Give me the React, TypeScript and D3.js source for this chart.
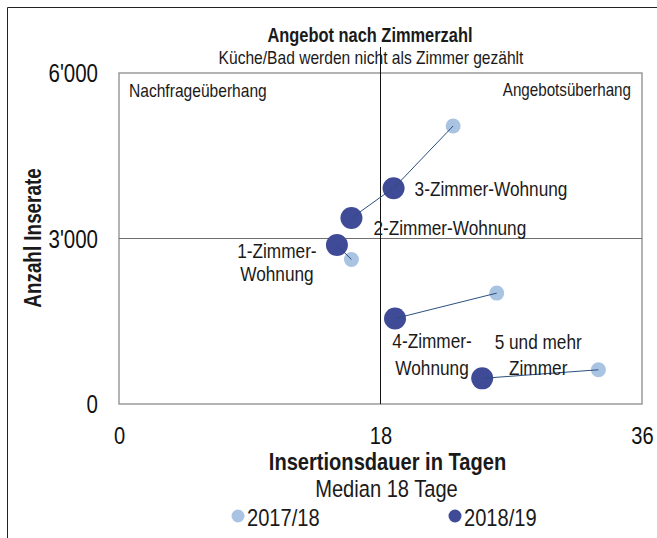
import React, { useEffect, useRef } from "react";
import * as d3 from "d3";

// Angebot nach Zimmerzahl: Insertionsdauer (Tage) vs. Anzahl Inserate
const categories = [
  "1-Zimmer-Wohnung",
  "2-Zimmer-Wohnung",
  "3-Zimmer-Wohnung",
  "4-Zimmer-Wohnung",
  "5 und mehr Zimmer",
];
const labelLines = [
  ["1-Zimmer-", "Wohnung"],
  ["2-Zimmer-Wohnung"],
  ["3-Zimmer-Wohnung"],
  ["4-Zimmer-", "Wohnung"],
  ["5 und mehr", "Zimmer"],
];
const days2017 = [16.0, 18.8, 23.0, 26.0, 33.0];
const ads2017 = [2620, 3900, 5040, 2010, 620];
const days2018 = [15.0, 16.0, 18.9, 19.0, 25.0];
const ads2018 = [2880, 3370, 3910, 1550, 465];
const seriesNames = ["2017/18", "2018/19"];
const xTicks = [0, 18, 36];
const yTicks = [0, 3000, 6000];
const medianDays = 18;
const medianAds = 3000;

const W = 657;
const H = 538;
// no Arial Narrow here: use Liberation Sans and squeeze it afterwards
const FONT = "'Liberation Sans', Arial, sans-serif";
const NARROW = 0.82;
const LIGHT = "#a9c3e2";
const DARK = "#404b98";
const LINK = "#2b4f7e";

// label placement relative to the 2018/19 point (px)
const labelPos = [
  { anchor: "middle", dx: -60, dy: [5, 28] },
  { anchor: "start", dx: 22, dy: [9] },
  { anchor: "start", dx: 21, dy: [0] },
  { anchor: "middle", dx: 37, dy: [22, 49] },
  { anchor: "middle", dx: 56, dy: [-37, -11] },
];

function Chart() {
  const ref = useRef<SVGSVGElement>(null);

  useEffect(() => {
    const svg = d3.select(ref.current);
    svg.selectAll("*").remove();

    const x = d3.scaleLinear().domain([0, 36]).range([119, 642]);
    const y = d3.scaleLinear().domain([0, 6000]).range([404, 73]);
    const fmt = d3.formatLocale({
      decimal: ".",
      thousands: "'",
      grouping: [3],
      currency: ["", ""],
    }).format(",");

    // outer frame
    svg.append("path")
      .attr("d", `M7.5,${H} V7.5 H${W}`)
      .attr("fill", "none")
      .attr("stroke", "#222")
      .attr("stroke-width", 1);

    // titles
    svg.append("text")
      .attr("x", 370).attr("y", 35)
      .attr("text-anchor", "middle").attr("dominant-baseline", "central")
      .attr("font-weight", "bold").attr("font-size", 20)
      .text("Angebot nach Zimmerzahl");
    svg.append("text")
      .attr("x", 371).attr("y", 57)
      .attr("text-anchor", "middle").attr("dominant-baseline", "central")
      .attr("font-size", 19)
      .text("Küche/Bad werden nicht als Zimmer gezählt");

    // plot box
    svg.append("rect")
      .attr("x", x(0)).attr("y", y(6000))
      .attr("width", x(36) - x(0)).attr("height", y(0) - y(6000))
      .attr("fill", "none").attr("stroke", "#9a9a9a").attr("stroke-width", 1.5);

    // median lines
    svg.append("line")
      .attr("x1", x(0)).attr("x2", x(36))
      .attr("y1", y(medianAds)).attr("y2", y(medianAds))
      .attr("stroke", "#6e6e6e").attr("stroke-width", 1.2);
    svg.append("line")
      .attr("x1", x(medianDays)).attr("x2", x(medianDays))
      .attr("y1", 47).attr("y2", y(0))
      .attr("stroke", "#111").attr("stroke-width", 1);

    // quadrant labels
    svg.append("text")
      .attr("x", x(0) + 10).attr("y", 90)
      .attr("dominant-baseline", "central").attr("font-size", 19)
      .text("Nachfrageüberhang");
    svg.append("text")
      .attr("x", x(36) - 11).attr("y", 89)
      .attr("text-anchor", "end")
      .attr("dominant-baseline", "central").attr("font-size", 18.5)
      .text("Angebotsüberhang");

    // y axis
    const yAxis = svg.append("g")
      .attr("transform", `translate(${x(0) - 8},0)`)
      .call(d3.axisLeft(y).tickValues(yTicks).tickFormat((v) => fmt(+v)).tickSize(0).tickPadding(13));
    yAxis.select(".domain").remove();
    yAxis.selectAll("text")
      .attr("font-family", FONT).attr("font-size", 25).attr("fill", "#111")
      .attr("dy", "0.34em");

    // x axis
    const xAxis = svg.append("g")
      .attr("transform", `translate(0,${y(0) + 23})`)
      .call(d3.axisBottom(x).tickValues(xTicks).tickFormat((v) => String(v)).tickSize(0).tickPadding(0));
    xAxis.select(".domain").remove();
    xAxis.selectAll("text")
      .attr("font-family", FONT).attr("font-size", 24.5).attr("fill", "#111")
      .attr("dy", "0.71em");

    // axis titles
    svg.append("text")
      .attr("transform", "translate(33,238) rotate(-90)")
      .attr("text-anchor", "middle").attr("dominant-baseline", "central")
      .attr("font-weight", "bold").attr("font-size", 23)
      .text("Anzahl Inserate");
    svg.append("text")
      .attr("x", x(medianDays) + 7).attr("y", 461)
      .attr("text-anchor", "middle").attr("dominant-baseline", "central")
      .attr("font-weight", "bold").attr("font-size", 24.5)
      .text("Insertionsdauer in Tagen");
    svg.append("text")
      .attr("x", x(medianDays) + 6).attr("y", 488)
      .attr("text-anchor", "middle").attr("dominant-baseline", "central")
      .attr("font-size", 24.5)
      .text("Median 18 Tage");

    const idx = d3.range(categories.length);

    // points
    svg.append("g").selectAll("circle")
      .data(idx).join("circle")
      .attr("cx", (i) => x(days2017[i]))
      .attr("cy", (i) => y(ads2017[i]))
      .attr("r", 7.5)
      .attr("fill", LIGHT);
    svg.append("g").selectAll("circle")
      .data(idx).join("circle")
      .attr("cx", (i) => x(days2018[i]))
      .attr("cy", (i) => y(ads2018[i]))
      .attr("r", 11)
      .attr("fill", DARK);

    // connectors
    svg.append("g").selectAll("line")
      .data(idx).join("line")
      .attr("x1", (i) => x(days2017[i]))
      .attr("y1", (i) => y(ads2017[i]))
      .attr("x2", (i) => x(days2018[i]))
      .attr("y2", (i) => y(ads2018[i]))
      .attr("stroke", LINK).attr("stroke-width", 1);

    // category labels
    idx.forEach((i) => {
      const p = labelPos[i];
      labelLines[i].forEach((ln, k) => {
        svg.append("text")
          .attr("x", x(days2018[i]) + p.dx)
          .attr("y", y(ads2018[i]) + p.dy[k])
          .attr("text-anchor", p.anchor)
          .attr("dominant-baseline", "central")
          .attr("font-size", 21)
          .text(ln);
      });
    });

    // legend
    const legendX = [238, 455];
    const legendColors = [LIGHT, DARK];
    seriesNames.forEach((name, i) => {
      svg.append("circle")
        .attr("cx", legendX[i]).attr("cy", 516).attr("r", 6.5)
        .attr("fill", legendColors[i]);
      svg.append("text")
        .attr("x", legendX[i] + 9).attr("y", 517)
        .attr("dominant-baseline", "central")
        .attr("font-size", 24.5)
        .text(name);
    });

    // condense every label to mimic Arial Narrow
    svg.selectAll<SVGTextElement, unknown>("text").each(function () {
      const len = this.getComputedTextLength();
      this.setAttribute("textLength", String(len * NARROW));
      this.setAttribute("lengthAdjust", "spacingAndGlyphs");
    });
  }, []);

  return (
    <svg
      ref={ref}
      width={W}
      height={H}
      style={{ position: "absolute", left: 0, top: 0, background: "#fff" }}
      fontFamily={FONT}
      fill="#1a1a1a"
    />
  );
}

export default function App() {
  return <Chart />;
}
